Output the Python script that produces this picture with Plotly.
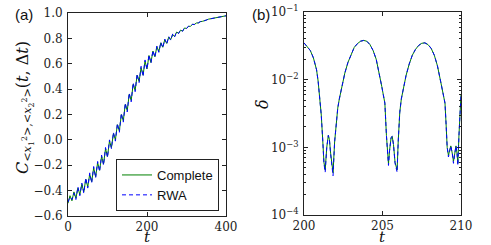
import plotly.graph_objects as go

# ---------------- Panel (a) data ----------------
t_a = list(range(0, 401, 5))
c_complete = [
    -0.50, -0.44, -0.48, -0.41, -0.46, -0.38, -0.43, -0.35, -0.41, -0.31,
    -0.37, -0.27, -0.33, -0.22, -0.29, -0.18, -0.24, -0.13, -0.19, -0.07,
    -0.13, -0.01, -0.06, 0.05, 0.00, 0.12, 0.07, 0.20, 0.15, 0.28,
    0.23, 0.36, 0.31, 0.44, 0.39, 0.51, 0.46, 0.57, 0.51, 0.62,
    0.56, 0.665, 0.61, 0.70, 0.655, 0.735, 0.695, 0.765, 0.73, 0.79,
    0.76, 0.81, 0.79, 0.83, 0.815, 0.85, 0.84, 0.865, 0.857, 0.882,
    0.878, 0.895, 0.895, 0.91, 0.91, 0.921, 0.922, 0.932, 0.934, 0.942,
    0.944, 0.951, 0.954, 0.959, 0.962, 0.965, 0.968, 0.971, 0.974, 0.976,
    0.978,
]
c_rwa = [
    -0.49, -0.45, -0.47, -0.42, -0.47, -0.37, -0.44, -0.34, -0.42, -0.30,
    -0.38, -0.26, -0.34, -0.21, -0.30, -0.17, -0.25, -0.12, -0.20, -0.06,
    -0.14, 0.00, -0.07, 0.06, -0.01, 0.13, 0.06, 0.21, 0.14, 0.29,
    0.22, 0.37, 0.30, 0.45, 0.38, 0.52, 0.45, 0.58, 0.50, 0.63,
    0.555, 0.67, 0.605, 0.705, 0.65, 0.74, 0.69, 0.77, 0.725, 0.795,
    0.755, 0.815, 0.785, 0.835, 0.812, 0.852, 0.838, 0.867, 0.856, 0.883,
    0.877, 0.896, 0.894, 0.911, 0.909, 0.922, 0.922, 0.932, 0.934, 0.942,
    0.944, 0.951, 0.954, 0.959, 0.962, 0.965, 0.968, 0.971, 0.974, 0.976,
    0.978,
]

# ---------------- Panel (b) data ----------------
t_b = [
    200.0, 200.2, 200.4, 200.6, 200.8, 200.9, 201.0, 201.1, 201.2, 201.27,
    201.35, 201.45, 201.55, 201.62, 201.7, 201.8, 201.85, 201.95, 202.05, 202.15,
    202.25, 202.4, 202.6, 202.8, 203.0, 203.2, 203.4, 203.6, 203.8, 204.0,
    204.2, 204.4, 204.6, 204.8, 204.95, 205.05, 205.15, 205.25, 205.32, 205.38,
    205.45, 205.55, 205.62, 205.7, 205.8, 205.88, 205.93, 206.0, 206.1, 206.2,
    206.35, 206.5, 206.7, 206.9, 207.1, 207.3, 207.5, 207.7, 207.9, 208.1,
    208.3, 208.5, 208.7, 208.85, 208.98, 209.05, 209.12, 209.2, 209.28, 209.35,
    209.45, 209.52, 209.6, 209.68, 209.75, 209.8, 209.87, 209.93, 210.0,
]
d_complete = [
    0.035, 0.031, 0.027, 0.021, 0.014, 0.0095, 0.0058, 0.0030, 0.0012, 0.00060,
    0.00046, 0.0010, 0.0015, 0.0013, 0.00080, 0.00045, 0.00042, 0.0012, 0.0025, 0.0038,
    0.0052, 0.0080, 0.0125, 0.018, 0.024, 0.030, 0.034, 0.037, 0.038, 0.037,
    0.033, 0.027, 0.020, 0.0125, 0.0080, 0.0060, 0.0045, 0.0015, 0.00070, 0.00057,
    0.00090, 0.0014, 0.00145, 0.0011, 0.00060, 0.00047, 0.00046, 0.0012, 0.0033, 0.0052,
    0.0080, 0.0115, 0.017, 0.023, 0.028, 0.032, 0.0345, 0.035, 0.033, 0.029,
    0.023, 0.016, 0.0095, 0.0060, 0.0045, 0.0022, 0.0010, 0.00076, 0.00090, 0.00105,
    0.00080, 0.00062, 0.00080, 0.00105, 0.00080, 0.00058, 0.0015, 0.0035, 0.0060,
]
d_rwa = [
    0.035, 0.031, 0.027, 0.021, 0.014, 0.0095, 0.0058, 0.0030, 0.0012, 0.00058,
    0.00043, 0.0010, 0.0015, 0.0013, 0.00078, 0.00041, 0.00038, 0.0012, 0.0025, 0.0038,
    0.0052, 0.0080, 0.0125, 0.018, 0.024, 0.030, 0.034, 0.037, 0.038, 0.037,
    0.033, 0.027, 0.020, 0.0125, 0.0080, 0.0060, 0.0045, 0.0015, 0.00068, 0.00054,
    0.00090, 0.0014, 0.00145, 0.0011, 0.00058, 0.00044, 0.00043, 0.0012, 0.0033, 0.0052,
    0.0080, 0.0115, 0.017, 0.023, 0.028, 0.032, 0.0345, 0.035, 0.033, 0.029,
    0.023, 0.016, 0.0095, 0.0060, 0.0045, 0.0022, 0.0010, 0.00072, 0.00090, 0.00105,
    0.00080, 0.00058, 0.00080, 0.00105, 0.00080, 0.00054, 0.0015, 0.0035, 0.0060,
]

a_xticks = [0, 200, 400]
a_yticks = [-0.6, -0.4, -0.2, 0.0, 0.2, 0.4, 0.6, 0.8, 1.0]
a_yticktext = ["\u22120.6", "\u22120.4", "\u22120.2", "0.0", "0.2", "0.4", "0.6", "0.8", "1.0"]
b_xticks = [200, 205, 210]
b_yticks = [1e-4, 1e-3, 1e-2, 1e-1]
b_yticktext = ["10<sup>\u22124</sup>", "10<sup>\u22123</sup>", "10<sup>\u22122</sup>", "10<sup>\u22121</sup>"]
b_minor = [m * 10 ** e for e in (-4, -3, -2) for m in range(2, 10)]

GREEN = "#008000"
BLUE = "#0000ff"
SERIF = "DejaVu Serif"
SANS = "Liberation Sans"

W, H = 491, 245


def fx(px):
    return px / W


def fy(py):
    return 1 - py / H


fig = go.Figure()
fig.add_trace(go.Scatter(x=t_a, y=c_complete, mode="lines", name="Complete",
                         line=dict(color=GREEN, width=1), xaxis="x", yaxis="y"))
fig.add_trace(go.Scatter(x=t_a, y=c_rwa, mode="lines", name="RWA",
                         line=dict(color=BLUE, width=1, dash="4px,3px"), xaxis="x", yaxis="y"))
fig.add_trace(go.Scatter(x=t_b, y=d_complete, mode="lines", name="Complete", showlegend=False,
                         line=dict(color=GREEN, width=1), xaxis="x2", yaxis="y2"))
fig.add_trace(go.Scatter(x=t_b, y=d_rwa, mode="lines", name="RWA", showlegend=False,
                         line=dict(color=BLUE, width=1, dash="4px,3px"), xaxis="x2", yaxis="y2"))

ax_common = dict(showline=True, linecolor="#222", linewidth=1, mirror="ticks",
                 ticks="inside", ticklen=4, tickcolor="#222", showgrid=False, zeroline=False,
                 automargin=False,
                 tickfont=dict(family=SERIF, size=12, color="#222"))

fig.update_layout(
    width=W, height=H,
    margin=dict(l=0, r=0, t=0, b=0, pad=0, autoexpand=False),
    paper_bgcolor="white", plot_bgcolor="white",
    xaxis=dict(domain=[fx(68), fx(226)], range=[0, 400], tickvals=a_xticks,
               anchor="y", ticklabelstandoff=0, **ax_common),
    yaxis=dict(domain=[fy(216), fy(13)], range=[-0.6, 1.0], tickvals=a_yticks,
               ticktext=a_yticktext, anchor="x", ticklabelstandoff=2, **ax_common),
    xaxis2=dict(domain=[fx(304), fx(461)], range=[200, 210], tickvals=b_xticks,
                anchor="y2", ticklabelstandoff=0, **ax_common),
    yaxis2=dict(domain=[fy(215), fy(12)], type="log", range=[-4, -1],
                tickvals=b_yticks, ticktext=b_yticktext, anchor="x2", ticklabelstandoff=2,
                minor=dict(tickvals=b_minor, ticks="inside", ticklen=2, tickcolor="#222"),
                **ax_common),
    showlegend=True,
    legend=dict(x=fx(219), y=fy(211), xanchor="right", yanchor="bottom",
                bgcolor="white", bordercolor="#222", borderwidth=1,
                font=dict(family=SANS, size=13, color="#111"),
                tracegroupgap=0, itemwidth=30),
    annotations=[
        dict(text="(a)", x=fx(13), y=fy(15), xref="paper", yref="paper",
             xanchor="left", yanchor="middle", showarrow=False,
             font=dict(family=SANS, size=15, color="#111")),
        dict(text="(b)", x=fx(250), y=fy(15), xref="paper", yref="paper",
             xanchor="left", yanchor="middle", showarrow=False,
             font=dict(family=SANS, size=15, color="#111")),
        dict(text="<i>t</i>", x=fx(147), y=fy(237), xref="paper", yref="paper",
             xanchor="center", yanchor="middle", showarrow=False,
             font=dict(family=SERIF, size=15, color="#111")),
        dict(text="<i>t</i>", x=fx(382), y=fy(237), xref="paper", yref="paper",
             xanchor="center", yanchor="middle", showarrow=False,
             font=dict(family=SERIF, size=15, color="#111")),
        dict(text="<i>δ</i>", x=fx(262), y=fy(104), xref="paper", yref="paper",
             xanchor="center", yanchor="middle", showarrow=False, textangle=-90,
             font=dict(family=SERIF, size=16, color="#111")),
        dict(text="<i>C</i><sub>&lt;<i>x</i><sub>1</sub><sup>2</sup>&gt;,&lt;<i>x</i><sub>2</sub><sup>2</sup>&gt;</sub>(<i>t</i>, Δ<i>t</i>)",
             x=fx(25), y=fy(108), xref="paper", yref="paper",
             xanchor="center", yanchor="middle", showarrow=False, textangle=-90,
             font=dict(family=SERIF, size=16, color="#111")),
    ],
)

fig.write_html("out.html", config={"displayModeBar": False},
               post_script="document.body.style.margin='0';document.body.style.overflow='hidden';")
